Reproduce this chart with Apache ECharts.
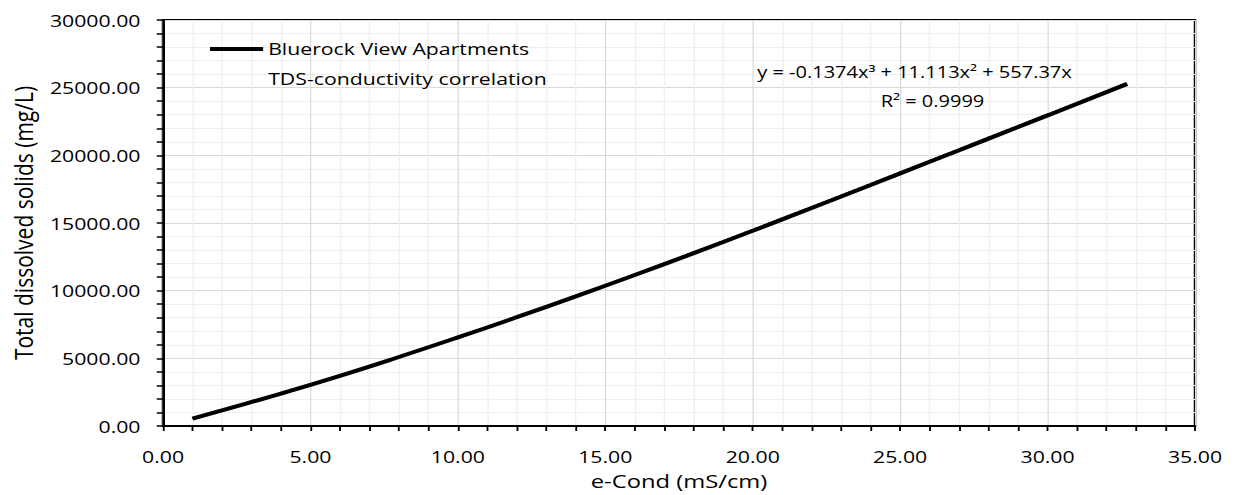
<!DOCTYPE html>
<html>
<head>
<meta charset="utf-8">
<script src="https://cdn.jsdelivr.net/npm/echarts@6/dist/echarts.min.js"></script>
<style>
  html, body { margin: 0; padding: 0; background: #fff; overflow: hidden; }
  /* chart is laid out narrow and widened horizontally to fill the window */
  #chart { width: 988px; height: 495px; transform: scaleX(1.25); transform-origin: 0 0; }
</style>
</head>
<body>
<div id="chart"></div>
<script>
// Measured e-Cond (mS/cm) vs total dissolved solids (mg/L)
const eCond = [1.0, 2.0, 4.0, 6.0, 8.0, 10.0, 12.0, 14.0, 16.0, 18.0, 20.0, 22.0, 24.0, 26.0, 28.0, 30.0, 32.7];
const tds = [545, 1160, 2400, 3710, 5100, 6545, 8040, 9580, 11160, 12770, 14425, 16110, 17810, 19520, 21235, 22950, 25280];
// Cubic trendline values at the same conductivities
const trendTds = [568, 1158, 2399, 3715, 5100, 6548, 8051, 9604, 11200, 12832, 14493, 16178, 17879, 19589, 21303, 23013, 25305];

const seriesName = 'Bluerock View Apartments';
const seriesName2 = 'TDS-conductivity correlation';
const eqLine1 = 'y = -0.1374x³ + 11.113x² + 557.37x';
const eqLine2 = 'R² = 0.9999';
const xTitle = 'e-Cond (mS/cm)';
const yTitle = 'Total dissolved solids (mg/L)';

const FONT = 'Open Sans';
const FS = 17;
const chart = echarts.init(document.getElementById('chart'), null, { renderer: 'svg' });

const pairs = (xs, ys) => xs.map((x, i) => [x, ys[i]]);

const axisCommon = {
  axisLine: { show: true, onZero: false, lineStyle: { color: '#000', width: 2 } },
  axisTick: { show: true, length: 5, lineStyle: { color: '#000', width: 1.5 } },
  minorTick: { show: true, splitNumber: 5, length: 5, lineStyle: { color: '#000', width: 1.5 } },
  splitLine: { show: true, lineStyle: { color: '#d9d9d9', width: 1 } },
  minorSplitLine: { show: true, lineStyle: { color: '#efefef', width: 1 } }
};

chart.setOption({
  animation: false,
  backgroundColor: '#ffffff',
  textStyle: { fontFamily: FONT },
  grid: { left: 128, right: 32, top: 20, bottom: 69, show: true, borderColor: '#000', borderWidth: 2, backgroundColor: 'transparent' },
  xAxis: Object.assign({}, axisCommon, {
    type: 'value', min: 0, max: 35, interval: 5,
    name: xTitle, nameLocation: 'middle', nameGap: 45,
    nameTextStyle: { fontSize: 19, color: '#000', fontFamily: FONT },
    axisLabel: { fontSize: FS, color: '#000', margin: 22, fontFamily: FONT, formatter: v => v.toFixed(2) }
  }),
  yAxis: Object.assign({}, axisCommon, {
    type: 'value', min: 0, max: 30000, interval: 5000,
    name: yTitle, nameLocation: 'middle', nameGap: 100, nameRotate: 90,
    nameTextStyle: { fontSize: 21, color: '#000', fontFamily: FONT },
    axisLabel: { fontSize: FS, color: '#000', margin: 18, fontFamily: FONT, formatter: v => v.toFixed(2) }
  }),
  series: [
    {
      name: seriesName, type: 'line', data: pairs(eCond, tds),
      smooth: true, showSymbol: false, symbol: 'none',
      lineStyle: { color: '#000', width: 4 }, z: 3
    },
    {
      name: 'trend', type: 'line', data: pairs(eCond, trendTds),
      smooth: true, showSymbol: false, symbol: 'none',
      lineStyle: { color: '#000', width: 2, type: 'dotted' }, z: 4
    }
  ],
  graphic: [
    // legend entry
    { type: 'line', z: 100, shape: { x1: 168, y1: 49, x2: 210.5, y2: 49 }, style: { stroke: '#000', lineWidth: 4 } },
    { type: 'text', z: 100, x: 214.5, y: 48, style: { text: seriesName, font: `${FS}px "${FONT}"`, fill: '#000', verticalAlign: 'middle', align: 'left' } },
    { type: 'text', z: 100, x: 214.5, y: 78, style: { text: seriesName2, font: `${FS}px "${FONT}"`, fill: '#000', verticalAlign: 'middle', align: 'left' } },
    // trendline equation
    { type: 'text', z: 100, x: 731.6, y: 72, style: { text: eqLine1, font: `16px "${FONT}"`, fill: '#000', verticalAlign: 'middle', align: 'center' } },
    { type: 'text', z: 100, x: 746, y: 101, style: { text: eqLine2, font: `16px "${FONT}"`, fill: '#000', verticalAlign: 'middle', align: 'center' } }
  ]
});
</script>
</body>
</html>
